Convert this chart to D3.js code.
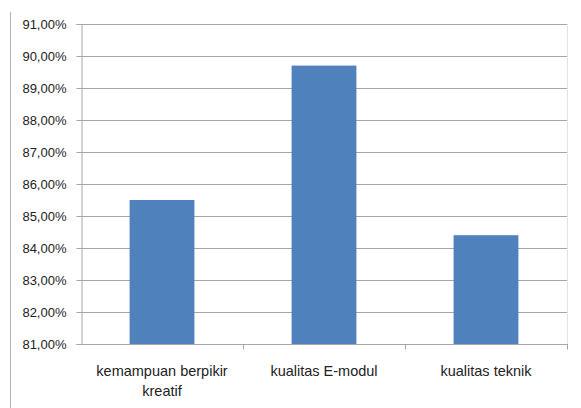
<!DOCTYPE html>
<html>
<head>
<meta charset="utf-8">
<script src="https://cdn.jsdelivr.net/npm/d3@7"></script>
<style>
  html, body { margin: 0; padding: 0; background: #fff; }
  svg { display: block; }
  text { font-family: "Liberation Sans", Arial, sans-serif; fill: #222; }
</style>
</head>
<body>
<div id="chart"></div>
<script>
// Category names (split into display lines) and their percentage values
const categories = ["kemampuan berpikir kreatif", "kualitas E-modul", "kualitas teknik"];
const categoryLines = [["kemampuan berpikir", "kreatif"], ["kualitas E-modul"], ["kualitas teknik"]];
const values = [85.5, 89.7, 84.4];
const yTicks = [81, 82, 83, 84, 85, 86, 87, 88, 89, 90, 91];

const W = 581, H = 408;
const margin = { left: 81, right: 14, top: 24, bottom: 64 };

const svg = d3.select("#chart").append("svg")
  .attr("width", W).attr("height", H);

// outer frame edge on the left
svg.append("line")
  .attr("x1", 10.5).attr("x2", 10.5).attr("y1", 12).attr("y2", H)
  .attr("stroke", "#b4b4b4").attr("stroke-width", 1);

const x = d3.scaleBand()
  .domain(categories)
  .range([margin.left, W - margin.right])
  .paddingInner(0.6).paddingOuter(0.3);

const y = d3.scaleLinear()
  .domain([81, 91])
  .range([H - margin.bottom, margin.top]);

const fmt = d => d.toFixed(2).replace(".", ",") + "%";

// horizontal gridlines
svg.append("g")
  .selectAll("line")
  .data(yTicks.slice(1))
  .join("line")
  .attr("x1", margin.left).attr("x2", W - margin.right)
  .attr("y1", d => Math.round(y(d)) + 0.5).attr("y2", d => Math.round(y(d)) + 0.5)
  .attr("stroke", "#a6a6a6").attr("stroke-width", 1);

// right border of the plot area
svg.append("line")
  .attr("x1", W - margin.right + 0.5).attr("x2", W - margin.right + 0.5)
  .attr("y1", margin.top).attr("y2", H - margin.bottom)
  .attr("stroke", "#dbe5f1").attr("stroke-width", 1);

// bars
svg.append("g")
  .selectAll("rect")
  .data(values)
  .join("rect")
  .attr("x", (d, i) => x(categories[i]))
  .attr("width", x.bandwidth())
  .attr("y", d => y(d))
  .attr("height", d => y(81) - y(d))
  .attr("fill", "#4f81bd");

// y axis
const yAxis = d3.axisLeft(y).tickValues(yTicks).tickFormat(fmt).tickSize(5).tickPadding(10);
const gy = svg.append("g")
  .attr("transform", `translate(${margin.left + 0.5},0)`)
  .call(yAxis);
gy.select(".domain").attr("stroke", "#a6a6a6");
gy.selectAll(".tick line").attr("stroke", "#a6a6a6");
gy.selectAll(".tick text")
  .style("font-family", "'Liberation Sans', Arial, sans-serif")
  .style("font-size", "13px").attr("fill", "#222");

// x axis baseline and band-boundary ticks
const baseY = Math.round(y(81)) + 0.5;
svg.append("line")
  .attr("x1", margin.left).attr("x2", W - margin.right + 1)
  .attr("y1", baseY).attr("y2", baseY)
  .attr("stroke", "#a6a6a6");
const bounds = d3.range(categories.length + 1).map(i => margin.left + i * (W - margin.left - margin.right) / categories.length);
svg.append("g")
  .selectAll("line")
  .data(bounds.slice(1))
  .join("line")
  .attr("x1", d => Math.round(d) + 0.5).attr("x2", d => Math.round(d) + 0.5)
  .attr("y1", baseY).attr("y2", baseY + 5)
  .attr("stroke", "#a6a6a6");

// category labels
const lab = svg.append("g")
  .selectAll("text")
  .data(categories)
  .join("text")
  .attr("x", d => x(d) + x.bandwidth() / 2)
  .attr("y", 376)
  .attr("text-anchor", "middle")
  .style("font-size", "14.5px");
lab.selectAll("tspan")
  .data((d, i) => categoryLines[i])
  .join("tspan")
  .attr("x", function () { return d3.select(this.parentNode).attr("x"); })
  .attr("dy", (d, j) => j === 0 ? 0 : 20)
  .text(d => d);
</script>
</body>
</html>
